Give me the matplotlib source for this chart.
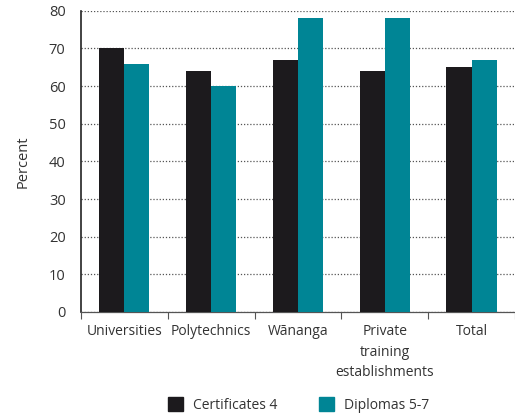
import matplotlib.pyplot as plt
import numpy as np
from matplotlib.patches import Patch

categories = ['Universities', 'Polytechnics', 'W\u0101nanga', 'Private\ntraining\nestablishments', 'Total']
certificates = [70, 64, 67, 64, 65]
diplomas = [66, 60, 78, 78, 67]
y_ticks = [0, 10, 20, 30, 40, 50, 60, 70, 80]

black = '#1c1a1d'
teal = '#008595'

plt.rcParams['font.family'] = ['Open Sans', 'DejaVu Sans']

fig = plt.figure(figsize=(5.15, 4.17), dpi=100)
ax = fig.add_axes([0.157, 0.252, 0.843, 0.722])

x = np.arange(len(categories))
w = 0.29
ax.bar(x - w / 2, certificates, w, color=black, zorder=3)
ax.bar(x + w / 2, diplomas, w, color=teal, zorder=3)

ax.set_xlim(-0.5, len(categories) - 0.5)
ax.set_ylim(0, 80)
ax.set_yticks(y_ticks)
ax.tick_params(axis='y', length=0, labelsize=10.5, pad=11, colors='#333333')
ax.yaxis.grid(True, linestyle=(0, (1, 1.5)), color='#555555', linewidth=0.9, zorder=0)

ax.set_xticks(x)
ax.set_xticklabels(categories, fontsize=10, color='#333333', linespacing=1.5)
ax.tick_params(axis='x', length=0, pad=9)
ax.set_xticks(np.arange(len(categories) + 1) - 0.5, minor=True)
ax.tick_params(axis='x', which='minor', length=5, width=0.8, color='#555555')

for s in ['top', 'right']:
    ax.spines[s].set_visible(False)
ax.spines['left'].set_color('#222222')
ax.spines['left'].set_linewidth(1.2)
ax.spines['bottom'].set_color('#555555')
ax.spines['bottom'].set_linewidth(0.9)

ax.set_ylabel('Percent', fontsize=10.5, color='#333333', labelpad=13)

handles = [Patch(color=black, label='Certificates 4'), Patch(color=teal, label='Diplomas 5-7')]
fig.legend(handles=handles, loc='lower center', bbox_to_anchor=(0.58, -0.02), ncol=2, frameon=False,
           fontsize=10, handlelength=1.1, handleheight=1.15, handletextpad=0.7, columnspacing=3.0,
           labelcolor='#333333')

fig.savefig('out.png', dpi=100)
